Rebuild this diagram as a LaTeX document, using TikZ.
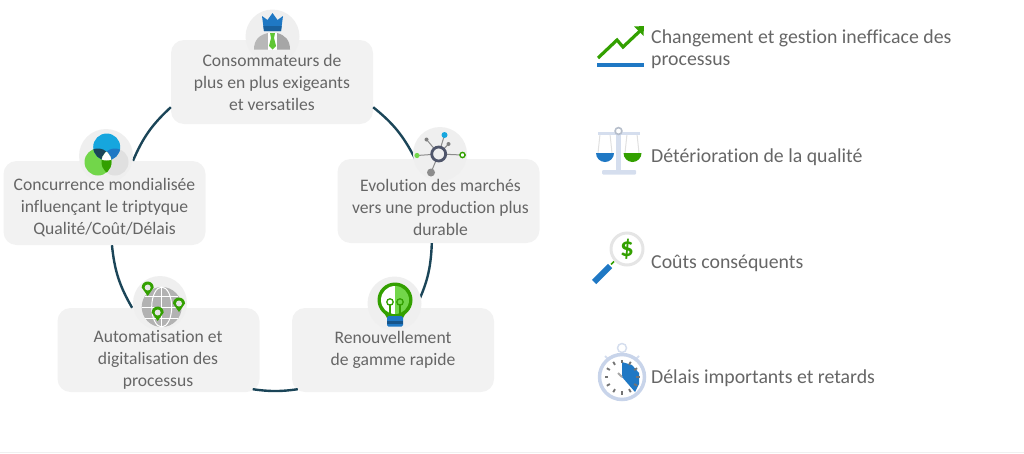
\documentclass[tikz,border=0pt]{standalone}
\usepackage{fontspec}
\setmainfont[Ligatures=NoCommon]{Carlito}
\usepackage{xcolor}
\usetikzlibrary{arrows.meta,calc,positioning}

\definecolor{boxgray}{HTML}{F2F2F2}
\definecolor{icongray}{HTML}{EFEFEF}
\definecolor{arcteal}{HTML}{1B4558}
\definecolor{textgray}{HTML}{666666}
\definecolor{leafgreen}{HTML}{33A000}
\definecolor{lightgreen}{HTML}{72D64A}
\definecolor{deepblue}{HTML}{1F78C4}
\definecolor{skyblue}{HTML}{16A6DE}
\definecolor{palesteel}{HTML}{D5DEEE}
\definecolor{ringsteel}{HTML}{C8D4EA}
\definecolor{slategray}{HTML}{50566B}

\tikzset{
  boxnode/.style={fill=boxgray,rounded corners=13pt,minimum width=202pt,minimum height=84pt,inner sep=0pt},
  boxtext/.style={text=textgray,align=center,font=\fontsize{17.6}{22}\selectfont,inner sep=0pt},
  sidetext/.style={text=textgray,align=left,anchor=west,font=\fontsize{19.8}{22}\selectfont,inner sep=0pt},
  iconbg/.style={circle,fill=icongray,minimum size=54pt,inner sep=0pt},
  arcline/.style={draw=arcteal,line width=2.4pt},
}

\begin{document}
\begin{tikzpicture}[x=1pt,y=1pt]
  \useasboundingbox (0,0) rectangle (1024,-453);
  \draw[black!6] (0,-452) -- (1024,-452);

  % boxes
  \node[boxnode] (consum) at (272,-82) {};
  \node[boxnode] (evol) at (438.5,-201) {};
  \node[boxnode] (renouv) at (393,-350) {};
  \node[boxnode] (auto) at (158.5,-350) {};
  \node[boxnode] (concur) at (104.5,-203) {};

  % ring
  \draw[arcline] (consum.-14) to[bend left=12] (evol.119);
  \draw[arcline] (evol.-99) to[bend left=12] (renouv.62);
  \draw[arcline] ($(renouv.south west)+(6,3)$) to[bend left=8] ($(auto.south east)+(-7,3)$);
  \draw[arcline] (auto.122) to[bend left=12] (concur.-80);
  \draw[arcline] (concur.56) to[bend left=12] (consum.-166.6);

  % icon discs
  \node[iconbg] (consumicon) at (272.5,-36.5) {};
  \node[iconbg] (evolicon) at (440,-154) {};
  \node[iconbg] (renouvicon) at (394.5,-303.5) {};
  \node[iconbg] (autoicon) at (160,-303) {};
  \node[iconbg] (concuricon) at (106,-156) {};

  % consumer
  \fill[black!28] (254,-49.5) .. controls (254,-40) and (259,-35) .. (268,-33) -- (268,-49.5) -- cycle;
  \fill[black!35] (290,-49.5) .. controls (290,-40) and (285,-35) .. (277,-33) -- (277,-49.5) -- cycle;
  \fill[white] (268,-33) rectangle (277,-49.5);
  \fill[lightgreen!70!leafgreen] (270,-33) -- (275,-33) -- (274,-38) -- (276,-46) -- (272.5,-49.5) -- (269,-46) -- (271,-38) -- cycle;
  \fill[deepblue] (262,-16) -- (267.5,-20) -- (272.5,-13) -- (277.5,-20) -- (283,-16) -- (281,-31) -- (264,-31) -- cycle;
  \fill[deepblue!80!black] (263.3,-26) -- (281.7,-26) -- (281,-31) -- (264,-31) -- cycle;

  % venn
  \fill[black!12] (115,-162) circle (13.5);
  \fill[lightgreen] (98,-162) circle (13.5);
  \fill[skyblue] (106.7,-147) circle (13.5);
  \begin{scope}
    \clip (106.7,-147) circle (13.5);
    \fill[arcteal] (98,-162) circle (13.5);
    \fill[deepblue] (115,-162) circle (13.5);
    \clip (98,-162) circle (13.5);
    \fill[white] (115,-162) circle (13.5);
  \end{scope}
  \begin{scope}
    \clip (98,-162) circle (13.5);
    \clip (115,-162) circle (13.5);
    \fill[leafgreen] (90,-150) rectangle (120,-180);
    \clip (106.7,-147) circle (13.5);
    \fill[white] (90,-150) rectangle (120,-180);
  \end{scope}

  % network
  \draw[black!45,line width=1pt] (438.7,-154) -- (417,-155.5);
  \draw[black!45,line width=1pt] (438.7,-154) -- (462.5,-155);
  \draw[black!45,line width=1pt] (438.7,-154) -- (444.5,-135);
  \draw[black!45,line width=1pt] (438.7,-154) -- (426.5,-139.5);
  \draw[black!45,line width=1pt] (438.7,-154) -- (448.5,-144);
  \draw[black!45,line width=1pt] (438.7,-154) -- (431,-172.5);
  \draw[fill=icongray,draw=slategray,line width=2.8pt] (438.7,-154) circle (7);
  \fill[skyblue] (444.5,-135) circle (3);
  \fill[black!50] (426.5,-139.5) circle (2);
  \fill[black!50] (448.5,-144) circle (2);
  \fill[lightgreen] (417,-155.5) circle (2.6);
  \draw[leafgreen,fill=white,line width=1.4pt] (462.5,-155) circle (2.6);
  \fill[black!45] (431,-172.5) circle (4);

  % bulb
  \fill[leafgreen] (395,-300) circle (17.5);
  \fill[leafgreen] (383,-311) -- (407,-311) -- (403,-318) -- (387,-318) -- cycle;
  \fill[white] (395,-286) arc (90:270:14) -- cycle;
  \fill[lightgreen] (395,-286) arc (90:-90:14) -- cycle;
  \fill[deepblue,rounded corners=1.5pt] (387,-316) rectangle (403,-326.5);
  \fill[deepblue!70!black] (387,-321) rectangle (403,-324);
  \draw[leafgreen,line width=1.3pt] (390,-316) -- (390,-304) (400,-316) -- (400,-304);
  \draw[leafgreen,line width=1.3pt] (390,-302) circle (3.2) (400,-302) circle (3.2);

  % globe
  \fill[black!30] (161.7,-307) circle (20);
  \draw[white,line width=1pt] (141.7,-307) -- (181.7,-307);
  \draw[white,line width=1pt] (145,-296) -- (178,-296) (145,-318) -- (178,-318);
  \draw[white,line width=1pt] (161.7,-287) -- (161.7,-327);
  \draw[white,line width=1pt] (161.7,-307) ellipse (10 and 20);
  \foreach \px/\py in {147.7/-287.5,179/-303.5,157.7/-312.5}{
    \fill[leafgreen] (\px-6,\py) arc (180:0:6) -- (\px,\py-8.5) -- cycle;
    \fill[black!10] (\px,\py) circle (3);
  }

  % trend
  \draw[leafgreen,line width=3.2pt] (598,-58) -- (617,-40) -- (623,-47) -- (641,-30);
  \fill[leafgreen] (644,-26) -- (634,-26.5) -- (643.5,-36) -- cycle;
  \fill[deepblue] (597,-63) rectangle (644,-67);

  % scale
  \draw[black!12,line width=1pt] (600,-134) -- (598,-153) (610,-134) -- (612,-153) (627,-134) -- (625,-153) (637,-134) -- (639,-153);
  \fill[palesteel] (616,-130) rectangle (621,-170);
  \fill[palesteel,rounded corners=1pt] (602,-170) rectangle (636,-174.5);
  \fill[palesteel] (598,-131.5) rectangle (640,-134.5);
  \draw[fill=white,draw=palesteel!85!black,line width=1.6pt] (618.5,-131) circle (3.4);
  \fill[deepblue] (596,-153) arc (180:360:9) -- cycle;
  \fill[leafgreen] (623.5,-153) arc (180:360:9) -- cycle;

  % magnifier
  \draw[deepblue,line width=6pt] (594,-282) -- (610,-266);
  \draw[leafgreen,line width=1.6pt] (611,-264.5) -- (614,-261.5);
  \draw[black!10,fill=white,line width=3pt] (627,-249) circle (16);
  \node[text=leafgreen,font=\fontsize{27}{27}\selectfont\bfseries,inner sep=0pt] (dollar) at (627,-249) {\$};

  % stopwatch
  \draw[palesteel,line width=1.5pt] (622,-348) circle (4.5);
  \draw[palesteel,line width=2pt] (605,-356) -- (609,-360) (639,-356) -- (635,-360);
  \draw[ringsteel,fill=white,line width=3.5pt] (622,-377) circle (22.5);
  \fill[deepblue] (622,-362) -- (622,-377) -- (635,-392) -- (639,-384) -- (639,-373) -- (632,-365) -- cycle;
  \foreach \a in {0,30,...,330}{
    \draw[black!55,line width=1.8pt] ($(622,-377)+(\a:14)$) -- ($(622,-377)+(\a:17.5)$);
  }
  \draw[black!35,line width=1.8pt] (618,-373) -- (622,-377);

  % labels
  \node[boxtext] (consumtext) at (272,-82) {Consommateurs de\\plus en plus exigeants\\et versatiles};
  \node[boxtext] (evoltext) at (440.5,-207) {Evolution des marchés\\vers une production plus\\durable};
  \node[boxtext] (renouvtext) at (393,-350) {Renouvellement\\de gamme rapide};
  \node[boxtext] (autotext) at (158,-360) {Automatisation et\\digitalisation des\\processus};
  \node[boxtext] (concurtext) at (104.5,-208) {Concurrence mondialisée\\influençant le triptyque\\Qualité/Coût/Délais};

  \node[sidetext] (changetext) at (651,-49) {Changement et gestion inefficace des\\processus};
  \node[sidetext] (qualitetext) at (651,-157) {Détérioration de la qualité};
  \node[sidetext] (couttext) at (651,-263) {Coûts conséquents};
  \node[sidetext] (delaitext) at (651,-378) {Délais importants et retards};
\end{tikzpicture}
\end{document}
